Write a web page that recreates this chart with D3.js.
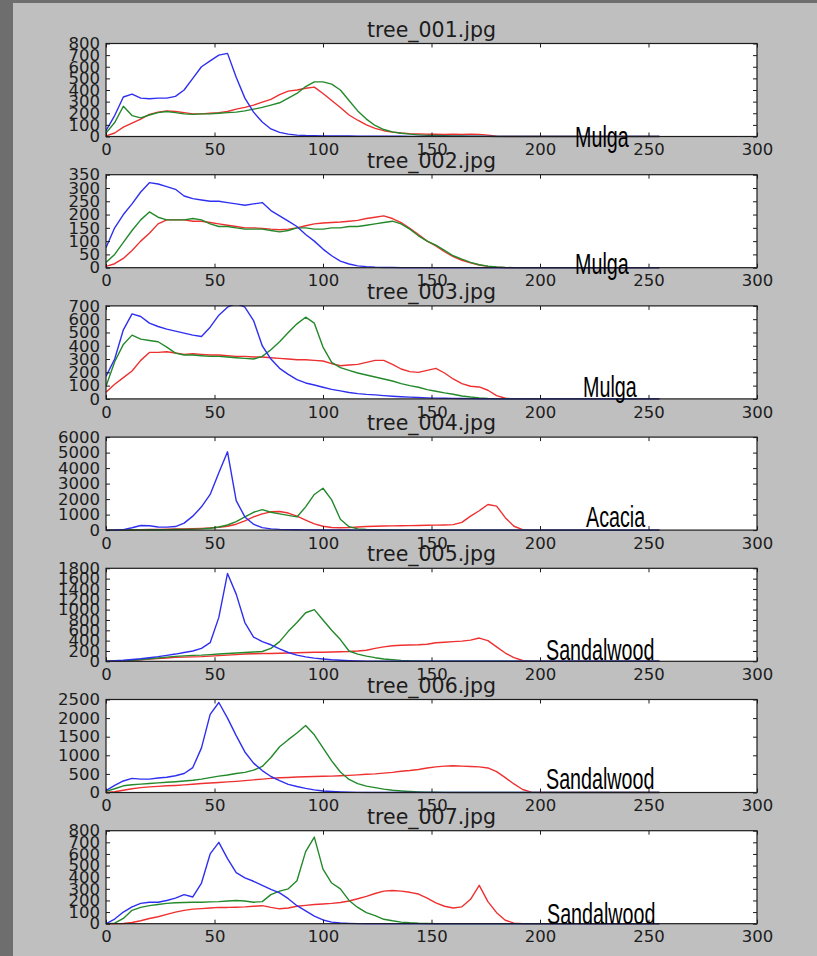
<!DOCTYPE html>
<html>
<head>
<meta charset="utf-8">
<script src="https://cdnjs.cloudflare.com/ajax/libs/d3/7.8.5/d3.min.js"></script>
<style>
  html, body { margin: 0; padding: 0; background: #6e6e6e; }
  svg { display: block; }
</style>
</head>
<body>
<svg id="chart" width="817" height="956"></svg>
<script>
// histogram bins (sampled every 4 levels)
const BINS = [0,4,8,12,16,20,24,28,32,36,40,44,48,
  52,56,60,64,68,72,76,80,84,88,92,96,100,
  104,108,112,116,120,124,128,132,136,140,144,148,152,
  156,160,164,168,172,176,180,184,188,192,196,200,204,
  208,212,216,220,224,228,232,236,240,244,248,252,255];

const TITLES = ['tree_001.jpg', 'tree_002.jpg', 'tree_003.jpg', 'tree_004.jpg',
  'tree_005.jpg', 'tree_006.jpg', 'tree_007.jpg'];
const SPECIES = ['Mulga', 'Mulga', 'Mulga', 'Acacia', 'Sandalwood', 'Sandalwood', 'Sandalwood'];
const X_TICKS = [0, 50, 100, 150, 200, 250, 300];
const Y_TICKS = [
  [0,100,200,300,400,500,600,700,800],
  [0,50,100,150,200,250,300,350],
  [0,100,200,300,400,500,600,700],
  [0,1000,2000,3000,4000,5000,6000],
  [0,200,400,600,800,1000,1200,1400,1600,1800],
  [0,500,1000,1500,2000,2500],
  [0,100,200,300,400,500,600,700,800],
];

const BLUE_1 = [50,180,340,365,330,325,330,330,345,400,500,600,650,
  700,715,510,330,210,125,65,35,20,12,8,6,5,
  5,4,4,3,3,3,2,2,2,1,1,1,1,
  1,1,1,1,1,1,0,0,0,0,0,0,0,
  0,0,0,0,0,0,0,0,0,0,0,0,0];
const GREEN_1 = [30,120,260,180,160,185,205,215,205,195,190,195,195,
  200,205,210,220,235,250,270,290,330,370,430,470,470,
  450,400,310,220,150,95,60,40,28,20,14,10,8,
  6,5,4,3,2,1,0,0,0,0,0,0,0,
  0,0,0,0,0,0,0,0,0,0,0,0,0];
const RED_1 = [5,30,80,115,150,190,210,220,215,205,195,195,200,
  205,215,235,250,270,295,320,360,390,400,415,425,370,
  310,250,185,140,100,70,50,38,30,25,22,20,20,
  18,20,18,20,18,12,3,0,0,0,0,0,0,
  0,0,0,0,0,0,0,0,0,0,0,0,0];

const BLUE_2 = [75,150,200,240,285,320,315,305,295,270,260,255,250,
  250,245,240,235,240,245,215,195,175,155,125,100,70,
  45,25,14,7,4,2,1,1,0,0,0,0,0,
  0,0,0,0,0,0,0,0,0,0,0,0,0,
  0,0,0,0,0,0,0,0,0,0,0,0,0];
const GREEN_2 = [20,50,95,140,180,210,190,180,180,180,185,180,165,
  155,155,150,145,145,145,140,135,140,150,150,145,145,
  150,150,155,155,160,165,170,175,165,145,120,100,85,
  65,45,32,20,11,6,3,1,0,0,0,0,0,
  0,0,0,0,0,0,0,0,0,0,0,0,0];
const RED_2 = [5,15,35,65,100,130,165,180,180,180,175,175,170,
  165,160,155,150,150,148,145,143,145,150,158,165,168,
  170,172,175,178,185,190,195,185,170,148,125,100,82,
  60,42,28,18,10,5,2,0,0,0,0,0,0,
  0,0,0,0,0,0,0,0,0,0,0,0,0];

const BLUE_3 = [170,300,520,640,620,570,545,525,510,495,480,470,540,
  630,690,720,690,590,400,300,230,185,145,120,105,88,
  72,60,48,40,34,30,25,20,16,13,10,8,6,
  5,4,3,2,1,0,0,0,0,0,0,0,0,
  0,0,0,0,0,0,0,0,0,0,0,0,0];
const GREEN_3 = [95,280,410,480,450,440,430,390,345,330,330,325,320,
  320,315,310,305,300,320,370,430,500,565,615,570,390,
  275,235,215,195,180,165,150,135,115,100,88,70,58,
  45,35,22,14,8,4,2,0,0,0,0,0,0,
  0,0,0,0,0,0,0,0,0,0,0,0,0];
const RED_3 = [50,110,160,210,290,350,350,355,345,335,340,335,330,
  330,325,320,320,315,315,310,305,300,295,295,290,285,
  265,250,255,260,275,290,290,260,225,205,200,215,230,
  195,150,115,95,90,65,25,5,0,0,0,0,0,
  0,0,0,0,0,0,0,0,0,0,0,0,0];

const BLUE_4 = [0,5,30,150,300,280,200,190,230,450,900,1500,2300,
  3700,5050,1900,850,380,160,80,45,30,20,12,8,5,
  4,3,2,1,0,0,0,0,0,0,0,0,0,
  0,0,0,0,0,0,0,0,0,0,0,0,0,
  0,0,0,0,0,0,0,0,0,0,0,0,0];
const GREEN_4 = [0,0,5,10,15,20,25,30,40,50,60,80,120,
  200,330,550,850,1150,1320,1150,1050,950,850,1500,2300,2700,
  1950,700,220,80,40,25,15,10,8,5,4,3,2,
  1,0,0,0,0,0,0,0,0,0,0,0,0,
  0,0,0,0,0,0,0,0,0,0,0,0,0];
const RED_4 = [0,0,5,15,30,40,50,60,70,80,90,110,140,
  180,250,380,600,850,1050,1180,1200,1100,900,650,400,250,
  170,150,160,200,230,250,260,270,280,290,300,310,320,
  330,350,500,900,1250,1650,1550,800,250,30,0,0,0,
  0,0,0,0,0,0,0,0,0,0,0,0,0];

const BLUE_5 = [0,10,20,35,50,70,90,115,140,170,200,250,360,
  850,1700,1300,750,470,380,320,240,170,120,85,62,45,
  30,20,12,7,4,2,1,0,0,0,0,0,0,
  0,0,0,0,0,0,0,0,0,0,0,0,0,
  0,0,0,0,0,0,0,0,0,0,0,0,0];
const GREEN_5 = [0,2,8,20,35,50,65,80,95,105,115,120,130,
  140,150,160,170,180,190,250,380,580,750,940,1000,800,
  600,420,200,140,100,70,45,30,18,10,6,3,1,
  0,0,0,0,0,0,0,0,0,0,0,0,0,
  0,0,0,0,0,0,0,0,0,0,0,0,0];
const RED_5 = [0,0,5,15,30,45,55,65,75,80,85,90,100,
  110,120,130,140,145,150,150,155,160,165,170,175,175,
  180,185,190,200,215,250,280,300,310,315,320,330,360,
  370,380,390,410,450,400,280,160,70,15,0,0,0,
  0,0,0,0,0,0,0,0,0,0,0,0,0];

const BLUE_6 = [50,190,310,380,360,360,390,410,450,510,670,1200,2100,
  2420,2000,1530,1090,790,590,430,320,220,160,110,70,40,
  25,15,8,4,2,1,0,0,0,0,0,0,0,
  0,0,0,0,0,0,0,0,0,0,0,0,0,
  0,0,0,0,0,0,0,0,0,0,0,0,0];
const GREEN_6 = [30,100,180,210,225,240,260,275,290,310,330,360,400,
  440,470,510,540,600,700,940,1230,1420,1600,1800,1550,1200,
  850,550,350,240,170,130,90,60,40,25,15,10,6,
  3,1,0,0,0,0,0,0,0,0,0,0,0,
  0,0,0,0,0,0,0,0,0,0,0,0,0];
const RED_6 = [0,20,60,100,130,150,165,180,190,205,220,240,255,
  270,285,300,320,340,360,380,395,405,415,425,430,435,
  440,450,460,475,490,500,520,540,570,590,620,660,690,
  710,720,710,700,690,660,560,400,230,80,10,0,0,
  0,0,0,0,0,0,0,0,0,0,0,0,0];

const BLUE_7 = [0,40,100,145,175,185,185,200,220,250,230,350,600,
  700,560,440,395,365,330,295,265,215,155,110,65,32,
  14,6,3,1,0,0,0,0,0,0,0,0,0,
  0,0,0,0,0,0,0,0,0,0,0,0,0,
  0,0,0,0,0,0,0,0,0,0,0,0,0];
const GREEN_7 = [0,5,45,115,140,155,165,175,180,182,185,185,188,
  190,195,200,195,185,190,250,280,300,370,620,745,470,
  350,300,200,140,95,69,38,25,14,8,4,2,0,
  0,0,0,0,0,0,0,0,0,0,0,0,0,
  0,0,0,0,0,0,0,0,0,0,0,0,0];
const RED_7 = [0,0,2,10,25,45,60,80,100,115,125,130,135,
  140,140,142,145,150,155,140,128,135,150,158,165,170,
  175,182,195,215,235,260,280,285,280,270,255,220,180,
  150,135,145,210,330,190,95,30,5,0,0,0,0,
  0,0,0,0,0,0,0,0,0,0,0,0,0];

// draw order: red, green, blue (blue ends up on top)
const SERIES = [
  [RED_1, GREEN_1, BLUE_1],
  [RED_2, GREEN_2, BLUE_2],
  [RED_3, GREEN_3, BLUE_3],
  [RED_4, GREEN_4, BLUE_4],
  [RED_5, GREEN_5, BLUE_5],
  [RED_6, GREEN_6, BLUE_6],
  [RED_7, GREEN_7, BLUE_7],
];
const LINE_COLORS = ['#ee3030', '#23892a', '#2f2ff0'];

// species label placement: left edge px, baseline offset from axes bottom
const LABEL_POS = [[575, 10], [575, 6], [583, -2], [586, -3], [546, -1], [546, -4], [547, 0]];

const svg = d3.select('#chart');
svg.append('rect').attr('width', 817).attr('height', 956).attr('fill', '#6e6e6e');
svg.append('rect').attr('x', 13).attr('y', 3).attr('width', 804).attr('height', 953).attr('fill', '#bfbfbf');

const left = 106, right = 757, top0 = 43.5, pitch = 131.2, ph = 93;
const FONT = '"DejaVu Sans", Verdana, sans-serif';
const x = d3.scaleLinear().domain([0, 300]).range([left, right]);
const fmt = d3.format('d');

function styleAxis(a) {
  a.select('.domain').remove();
  a.attr('font-family', FONT).attr('font-size', 16.5).attr('color', '#1c1c1c');
  a.selectAll('.tick line').attr('stroke-width', 1);
}

TITLES.forEach((title, i) => {
  const top = top0 + i * pitch, bottom = top + ph;
  const ticks = Y_TICKS[i];
  const y = d3.scaleLinear().domain([0, ticks[ticks.length - 1]]).range([bottom, top]);
  const g = svg.append('g');

  g.append('rect').attr('x', left).attr('y', top).attr('width', right - left).attr('height', ph)
    .attr('fill', '#ffffff');

  g.append('clipPath').attr('id', 'clip-' + i).append('rect')
    .attr('x', left).attr('y', top - 1).attr('width', right - left).attr('height', ph + 2);

  const line = d3.line().x((d, j) => x(BINS[j])).y(d => y(d));
  g.append('g').attr('clip-path', `url(#clip-${i})`)
    .selectAll('path').data(SERIES[i]).enter().append('path')
    .attr('d', line).attr('fill', 'none')
    .attr('stroke', (d, k) => LINE_COLORS[k]).attr('stroke-width', 1.4)
    .attr('stroke-linejoin', 'round');

  g.append('g').attr('transform', `translate(0,${bottom})`)
    .call(d3.axisBottom(x).tickValues(X_TICKS).tickFormat(fmt)
      .tickSizeInner(-4).tickSizeOuter(0).tickPadding(7))
    .call(styleAxis);
  g.append('g').attr('transform', `translate(0,${top})`)
    .call(d3.axisTop(x).tickValues(X_TICKS).tickSizeInner(-4).tickSizeOuter(0).tickFormat(''))
    .call(styleAxis);
  g.append('g').attr('transform', `translate(${left},0)`)
    .call(d3.axisLeft(y).tickValues(ticks).tickFormat(fmt)
      .tickSizeInner(-4).tickSizeOuter(0).tickPadding(6))
    .call(styleAxis);
  g.append('g').attr('transform', `translate(${right},0)`)
    .call(d3.axisRight(y).tickValues(ticks).tickSizeInner(-4).tickSizeOuter(0).tickFormat(''))
    .call(styleAxis);

  g.append('rect').attr('x', left).attr('y', top).attr('width', right - left).attr('height', ph)
    .attr('fill', 'none').attr('stroke', '#1c1c1c').attr('stroke-width', 1.2);

  g.append('text').attr('x', (left + right) / 2).attr('y', top - 7)
    .attr('text-anchor', 'middle').attr('font-family', FONT).attr('font-size', 20.5)
    .attr('fill', '#1c1c1c').text(title);
});

// species names written over the plots in a tall narrow face
SPECIES.forEach((name, i) => {
  const bottom = top0 + i * pitch + ph;
  const [lx, dy] = LABEL_POS[i];
  svg.append('text')
    .attr('transform', `translate(${lx},${bottom + dy}) scale(0.68,1)`)
    .attr('font-family', '"Liberation Sans", Arial, sans-serif').attr('font-size', 29)
    .attr('fill', '#000').text(name);
});
</script>
</body>
</html>
